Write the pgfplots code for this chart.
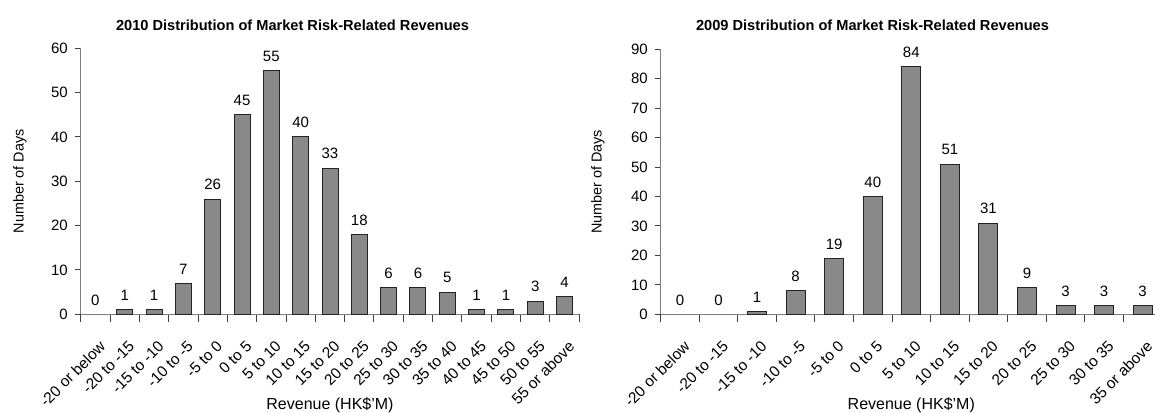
\documentclass[border=0pt]{standalone}
\usepackage{fontspec}
\setmainfont{Liberation Sans}
\usepackage{pgfplots}
\pgfplotsset{compat=1.18}
\definecolor{barfill}{RGB}{137,137,137}
\definecolor{barline}{RGB}{35,35,35}
\definecolor{axisgray}{RGB}{125,125,125}
\pgfplotsset{
  mystyle/.style={
    scale only axis,
    axis x line=bottom, axis y line=left,
    axis line style={-, draw=axisgray, line width=0.7pt},
    ymin=0, xmin=-0.5,
    tick align=outside,
    tick style={draw=black!75, line width=0.5pt},
    major tick length=3pt,
    minor tick length=4pt,
    major x tick style={draw=none},
    /pgf/number format/assume math mode=true,
    yticklabel style={font=\fontsize{7.5}{8}\selectfont, anchor=east, inner sep=0pt, xshift=-3.3pt},
    xticklabel style={font=\fontsize{7.7}{9}\selectfont, anchor=north east, inner sep=0pt, xshift=1.5pt, yshift=-9.5pt, rotate=45},
    title style={font=\bfseries\fontsize{7.3}{9}\selectfont, anchor=base, yshift=0pt},
    ylabel={Number of Days},
    xlabel={Revenue (HK\$'M)},
    xlabel style={font=\fontsize{8}{9}\selectfont, at={(axis description cs:0.5,0)}, anchor=base, yshift=-47.35pt},
    ybar, bar shift=0pt,
    nodes near coords,
    every node near coord/.append style={font=\fontsize{7.5}{8}\selectfont, yshift=1pt},
  },
  mybars/.style={fill=barfill, draw=barline, line width=0.5pt},
  zerobars/.style={fill=none, draw=none},
}
\begin{document}
\begin{tikzpicture}
\useasboundingbox (0pt,0pt) rectangle (577.5pt,206pt);
% 2010
\begin{axis}[mystyle,
  at={(40.35pt,48.85pt)}, anchor=south west,
  width=249.3pt, height=133pt,
  xmax=16.5, ymax=60, ytick={0,10,...,60},
  bar width=8pt,
  xtick={0,...,16},
  minor xtick={-0.5,0.5,...,16.5},
  xticklabels={-20 or below,-20 to -15,-15 to -10,-10 to -5,-5 to 0,0 to 5,5 to 10,10 to 15,15 to 20,20 to 25,25 to 30,30 to 35,35 to 40,40 to 45,45 to 50,50 to 55,55 or above},
  title={2010 Distribution of Market Risk-Related Revenues},
  title style={at={(axis description cs:0.4248,1.021)}},
  ylabel style={font=\fontsize{7.2}{8}\selectfont, at={([xshift=-30.35pt]axis description cs:0,0.5)}, anchor=center},
]
\addplot[mybars] coordinates {(1,1) (2,1) (3,7) (4,26) (5,45) (6,55) (7,40) (8,33) (9,18) (10,6) (11,6) (12,5) (13,1) (14,1) (15,3) (16,4)};
\addplot[zerobars] coordinates {(0,0)};
\end{axis}
% 2009
\begin{axis}[mystyle,
  at={(330.35pt,48.85pt)}, anchor=south west,
  width=250.6pt, height=132.5pt,
  xmax=12.5, ymax=90, ytick={0,10,...,90},
  bar width=9.5pt,
  xtick={0,...,12},
  minor xtick={-0.5,0.5,...,12.5},
  xticklabels={-20 or below,-20 to -15,-15 to -10,-10 to -5,-5 to 0,0 to 5,5 to 10,10 to 15,15 to 20,20 to 25,25 to 30,30 to 35,35 or above},
  title={2009 Distribution of Market Risk-Related Revenues},
  title style={at={(axis description cs:0.4226,1.025)}},
  ylabel style={font=\fontsize{7.2}{8}\selectfont, at={([xshift=-31.35pt]axis description cs:0,0.5)}, anchor=center},
]
\addplot[mybars] coordinates {(2,1) (3,8) (4,19) (5,40) (6,84) (7,51) (8,31) (9,9) (10,3) (11,3) (12,3)};
\addplot[zerobars] coordinates {(0,0) (1,0)};
\end{axis}
\end{tikzpicture}
\end{document}
